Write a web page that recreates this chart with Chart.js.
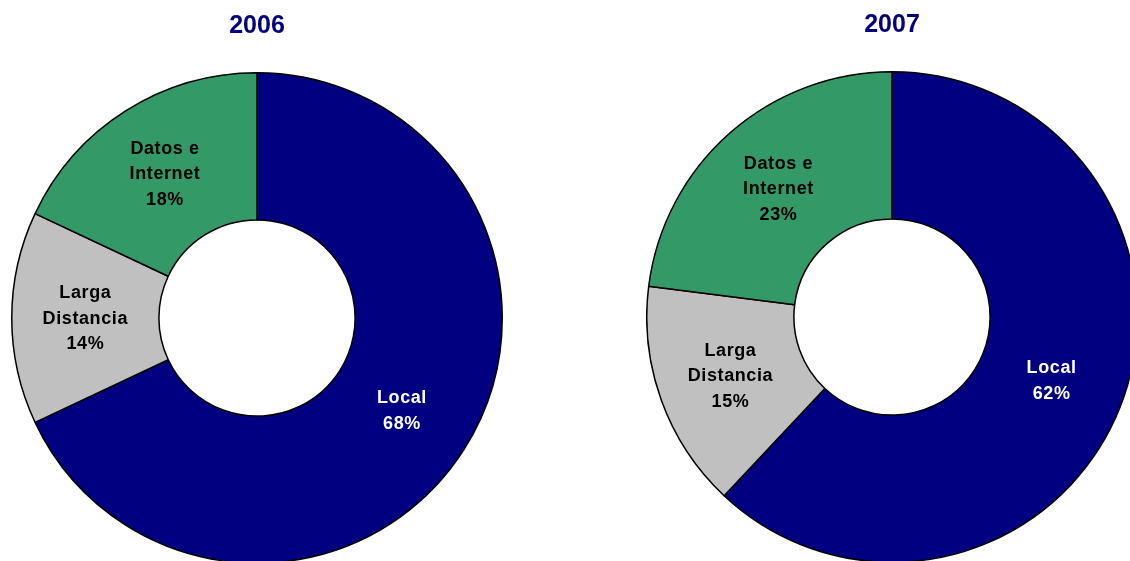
<!DOCTYPE html>
<html>
<head>
<meta charset="utf-8">
<script src="https://cdn.jsdelivr.net/npm/chart.js@4/dist/chart.umd.min.js"></script>
<style>
    html, body { margin: 0; padding: 0; background: #fff; overflow: hidden; width: 1130px; height: 561px; }
    .pie { position: absolute; top: 0; width: 492px; height: 564px; }
    #pie2006 { left: 11px; }
    #pie2007 { left: 646px; top: -1px; }
</style>
</head>
<body>
<div class="pie" id="pie2006"><canvas id="chart2006"></canvas></div>
<div class="pie" id="pie2007"><canvas id="chart2007"></canvas></div>
<script>
// data
var categories = ['Local', 'Larga Distancia', 'Datos e Internet'];
var labelLines = [['Local'], ['Larga', 'Distancia'], ['Datos e', 'Internet']];
var values2006 = [68, 14, 18];
var values2007 = [62, 15, 23];

// colors
var sliceColors = ['#000080', '#C0C0C0', '#339966'];
var labelColors = ['#ffffff', '#000000', '#000000'];
var titleColor = '#000080';

// draws the text inside every slice
var sliceLabels = {
    id: 'sliceLabels',
    afterDatasetsDraw: function (chart) {
        var ctx = chart.ctx;
        var meta = chart.getDatasetMeta(0);
        var data = chart.data.datasets[0].data;
        ctx.save();
        ctx.font = 'bold 18px "Liberation Sans", Arial, sans-serif';
        ctx.letterSpacing = '0.6px';
        ctx.textAlign = 'center';
        ctx.textBaseline = 'middle';
        meta.data.forEach(function (arc, i) {
            var pos = arc.tooltipPosition();
            var lines = labelLines[i].concat([data[i] + '%']);
            var lineH = 25.5;
            var top = pos.y + 1 - (lines.length - 1) * lineH / 2;
            ctx.fillStyle = labelColors[i];
            for (var l = 0; l < lines.length; l++) {
                ctx.fillText(lines[l], pos.x, top + l * lineH);
            }
        });
        ctx.restore();
    }
};

function makeDoughnut(canvasId, year, values) {
    return new Chart(document.getElementById(canvasId).getContext('2d'), {
        type: 'doughnut',
        data: {
            labels: categories,
            datasets: [{
                data: values,
                backgroundColor: sliceColors,
                borderColor: '#000000',
                borderWidth: 1.5,
                borderAlign: 'center'
            }]
        },
        options: {
            responsive: true,
            maintainAspectRatio: false,
            animation: false,
            cutout: '40%',
            rotation: 0,
            layout: { padding: 0 },
            plugins: {
                legend: { display: false },
                tooltip: { enabled: false },
                title: {
                    display: true,
                    text: year,
                    color: titleColor,
                    font: { family: '"Liberation Sans", Arial, sans-serif', size: 25, weight: 'bold', lineHeight: 1.2 },
                    padding: { top: 11, bottom: 31 }
                }
            }
        },
        plugins: [sliceLabels]
    });
}

makeDoughnut('chart2006', '2006', values2006);
makeDoughnut('chart2007', '2007', values2007);
</script>
</body>
</html>
